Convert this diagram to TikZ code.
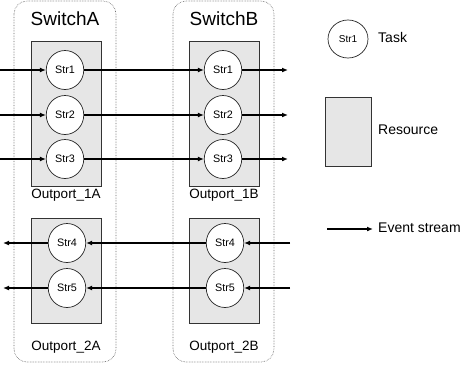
\documentclass[tikz,border=0pt]{standalone}
\usepackage{fontspec}
\setmainfont{Liberation Sans}
\usetikzlibrary{arrows.meta,shapes.geometric}
\definecolor{resfill}{HTML}{E6E6E6}
\begin{document}
\begin{tikzpicture}[x=1pt,y=-1pt,
  switchbox/.style={draw=gray!80!black,densely dotted,line width=0.6pt,rounded corners=13pt},
  resbox/.style={draw=black!80,fill=resfill,line width=0.8pt},
  task/.style={draw=black!85,fill=white,ellipse,minimum width=37.5pt,minimum height=39pt,inner sep=0pt,line width=0.7pt,font=\fontsize{10.8}{12}\selectfont},
  stream/.style={line width=1.2pt,-{Latex[length=6pt,width=5pt]}},
  lbl/.style={font=\fontsize{13.5}{16}\selectfont,inner sep=0pt},
  ttl/.style={font=\fontsize{19}{22}\selectfont,inner sep=0pt},
  leg/.style={font=\fontsize{14}{16}\selectfont,inner sep=0pt,anchor=west}]
\useasboundingbox (0,0) rectangle (469,365);
% switches
\draw[switchbox] (14,1) rectangle (116,362);
\draw[switchbox] (173,1) rectangle (274,362);
\node[ttl] (swa) at (65,18.5) {SwitchA};
\node[ttl] (swb) at (224,18.5) {SwitchB};
% resources
\draw[resbox] (31,41) rectangle (101,186);
\draw[resbox] (31,218) rectangle (101,323);
\draw[resbox] (189,41) rectangle (259,186);
\draw[resbox] (189,218) rectangle (259,323);
\node[lbl] (o1a) at (66,195) {Outport\_1A};
\node[lbl] (o2a) at (66,347) {Outport\_2A};
\node[lbl] (o1b) at (224,195) {Outport\_1B};
\node[lbl] (o2b) at (224,347) {Outport\_2B};
% tasks
\node[task] (a1) at (65,70) {Str1};
\node[task] (a2) at (65,115) {Str2};
\node[task] (a3) at (65,159) {Str3};
\node[task] (a4) at (67,243) {Str4};
\node[task] (a5) at (67,288) {Str5};
\node[task] (b1) at (223,70) {Str1};
\node[task] (b2) at (223,115) {Str2};
\node[task] (b3) at (223,159) {Str3};
\node[task] (b4) at (225,243) {Str4};
\node[task] (b5) at (225,288) {Str5};
% free ends
\coordinate (i1) at (0,70);
\coordinate (i2) at (0,115);
\coordinate (i3) at (0,159);
\coordinate (e1) at (288,70);
\coordinate (e2) at (288,115);
\coordinate (e3) at (288,159);
\coordinate (i4) at (290,243);
\coordinate (i5) at (290,288);
\coordinate (e4) at (3,243);
\coordinate (e5) at (3,288);
% streams
\foreach \k in {1,2,3}{
  \draw[stream] (i\k) -- (a\k.west);
  \draw[stream] (a\k.east) -- (b\k.west);
  \draw[stream] (b\k.east) -- (e\k);
}
\foreach \k in {4,5}{
  \draw[stream] (i\k) -- (b\k.east);
  \draw[stream] (b\k.west) -- (a\k.east);
  \draw[stream] (a\k.west) -- (e\k);
}
% legend
\node[task,minimum width=40pt,minimum height=38pt,font=\fontsize{10}{12}\selectfont] (lt) at (348,39) {Str1};
\node[leg] (ltt) at (378,37) {Task};
\draw[resbox] (325,97) rectangle (371,166);
\node[leg] (lrt) at (378,130) {Resource};
\coordinate (ls) at (327,229);
\coordinate (le) at (373,229);
\draw[stream] (ls) -- (le);
\node[leg] (let) at (378,228) {Event stream};
\end{tikzpicture}
\end{document}
